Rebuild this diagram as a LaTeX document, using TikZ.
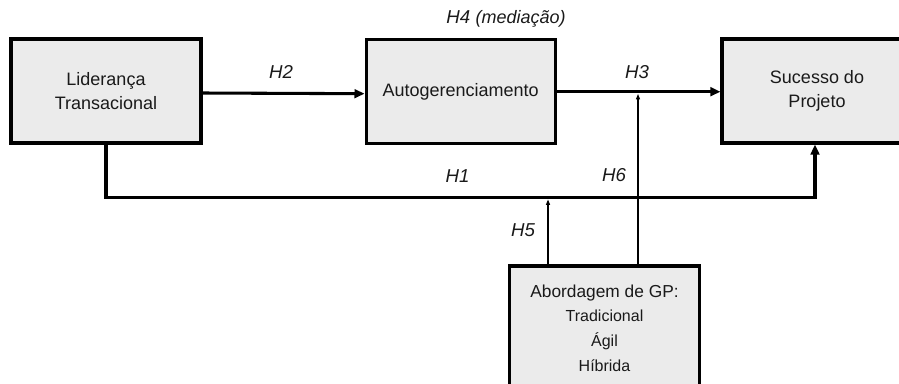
\documentclass[tikz,border=0pt]{standalone}
\usepackage{fontspec}
\setmainfont{Liberation Sans}
\usetikzlibrary{arrows.meta,positioning}
\definecolor{boxBg}{HTML}{EBEBEB}
\definecolor{inkGray}{HTML}{1A1A1A}
\tikzset{
  var/.style={draw=black, line width=2.3pt, fill=boxBg, align=center,
    text=inkGray, minimum width=142.5pt, minimum height=78pt, inner sep=2pt,
    font=\fontsize{13.5}{17.5}\selectfont},
  bigarr/.style={-{Triangle[length=7.5pt,width=6.5pt]}, line width=2.3pt},
  thinarr/.style={-{Triangle[length=4pt,width=3pt]}, line width=0.8pt},
  hyp/.style={font=\itshape\fontsize{14}{16}\selectfont, text=inkGray}
}

\begin{document}
\begin{tikzpicture}[x=0.75pt,y=-0.75pt]
  \useasboundingbox (0,0) rectangle (899,383);
  \clip (0,0) rectangle (899,383);
  % constructs
  \node[var] (lid) at (106,91) {Liderança\\Transacional};
  \node[var, minimum width=142pt] (auto) at (460.7,91.7) {Autogerenciamento};
  \node[var] (suc) at (817,91) {Sucesso do\\Projeto};
  \node[var, minimum height=93pt, font=\fontsize{12}{18.4}\selectfont] (abo) at (604.5,328)
    {{\fontsize{13}{18.4}\selectfont Abordagem de GP:}\\Tradicional\\Ágil\\Híbrida};
  % hypotheses
  \coordinate (h1c) at (815,197.5);
  \coordinate (h5c) at (548,199.5);
  \coordinate (h6c) at (638,94);
  \draw[bigarr] ([yshift=-1.5pt]lid.east) -- ([yshift=-1.5pt]auto.west);
  \draw[bigarr] (auto.east) -- (auto.east -| suc.west);
  \draw[bigarr] (lid.south) |- (h1c) -- (h1c |- suc.south);
  \draw[thinarr] (abo.north -| h5c) -- (h5c);
  \draw[thinarr] (abo.north -| h6c) -- (h6c);
  \node[hyp] (h2) at (281,71.7) {H2};
  \node[hyp, anchor=base] (h4) at (506,23) {H4 {\fontsize{13.5}{15}\selectfont(mediação)}};
  \node[hyp] (h3) at (637,71.7) {H3};
  \node[hyp] (h1) at (457.5,176) {H1};
  \node[hyp] (h6) at (614,175) {H6};
  \node[hyp] (h5) at (523,230.5) {H5};
\end{tikzpicture}
\end{document}
